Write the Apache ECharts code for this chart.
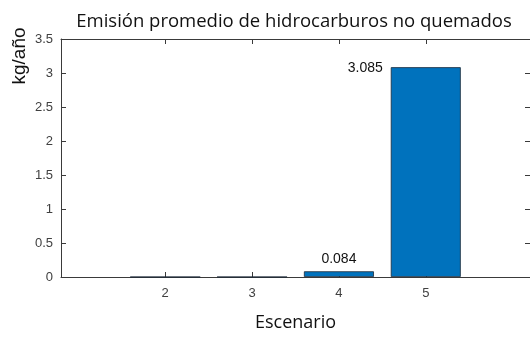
<!DOCTYPE html>
<html>
<head>
<meta charset="utf-8">
<script src="https://cdn.jsdelivr.net/npm/echarts@6/dist/echarts.min.js"></script>
<style>
  html, body { margin: 0; padding: 0; background: #fff; overflow: hidden; }
  #chart { width: 530px; height: 337px; }
</style>
</head>
<body>
<div id="chart"></div>
<script>
// Escenarios y emisión promedio (kg/año)
const scenarios = [2, 3, 4, 5];
const emissions = [0, 0, 0.084, 3.085];
const xTicks = [2, 3, 4, 5];

const axisGray = '#3a3a3a';
const labelFont = { fontFamily: 'Liberation Sans, Arial, sans-serif', fontSize: 13, color: '#404040' };

const barData = scenarios.map((s, i) => {
  const v = emissions[i];
  const item = { value: [s, v] };
  if (v <= 0) {
    item.label = { show: false };
  } else if (v > 1) {
    item.label = { show: true, position: [-8, 1], align: 'right', verticalAlign: 'middle' };
  } else {
    item.label = { show: true, position: 'top', distance: 5 };
  }
  return item;
});

const boxAxis = (extra) => Object.assign({
  axisLine: { show: true, onZero: false, lineStyle: { color: axisGray, width: 1 } },
  splitLine: { show: false }
}, extra);

const chart = echarts.init(document.getElementById('chart'));
chart.setOption({
  animation: false,
  title: {
    text: 'Emisión promedio de hidrocarburos no quemados',
    left: 289, textAlign: 'center', top: 7,
    textStyle: { fontFamily: 'Open Sans, sans-serif', fontSize: 18.5, fontWeight: 'normal', color: '#111' }
  },
  graphic: [{
    type: 'text',
    x: 20, y: 56, rotation: Math.PI / 2,
    style: {
      text: 'kg/año', fill: '#111',
      font: '19px "Liberation Sans", Arial, sans-serif',
      align: 'center', verticalAlign: 'middle'
    }
  }],
  // the right frame edge sits just past the canvas edge
  grid: { left: 61, right: -3, top: 39, bottom: 56 },
  xAxis: [boxAxis({
    type: 'value', min: 0.8, max: 6.2, position: 'bottom',
    name: 'Escenario', nameLocation: 'middle', nameGap: 37,
    nameTextStyle: { fontFamily: 'Open Sans, sans-serif', fontSize: 18, color: '#111' },
    axisTick: { show: true, inside: true, length: 5, customValues: xTicks, lineStyle: { color: axisGray } },
    axisLabel: Object.assign({ customValues: xTicks, margin: 10 }, labelFont)
  }), boxAxis({
    type: 'value', min: 0.8, max: 6.2, position: 'top',
    axisTick: { show: true, inside: true, length: 5, customValues: xTicks, lineStyle: { color: axisGray } },
    axisLabel: { show: false }
  })],
  yAxis: [boxAxis({
    type: 'value', min: 0, max: 3.5, interval: 0.5, position: 'left',
    axisTick: { show: true, inside: true, length: 5, lineStyle: { color: axisGray } },
    axisLabel: Object.assign({ margin: 8, formatter: v => String(v) }, labelFont)
  }), boxAxis({
    type: 'value', min: 0, max: 3.5, interval: 0.5, position: 'right',
    axisTick: { show: true, inside: true, length: 5, lineStyle: { color: axisGray } },
    axisLabel: { show: false }
  })],
  series: [{
    type: 'bar',
    xAxisIndex: 0, yAxisIndex: 0,
    barWidth: 70,
    data: barData,
    itemStyle: { color: '#0072BD', borderColor: '#1c2a38', borderWidth: 0.8 },
    label: {
      formatter: p => p.value[1].toFixed(3),
      fontFamily: 'Liberation Sans, Arial, sans-serif', fontSize: 14, color: '#111'
    }
  }]
});
</script>
</body>
</html>
